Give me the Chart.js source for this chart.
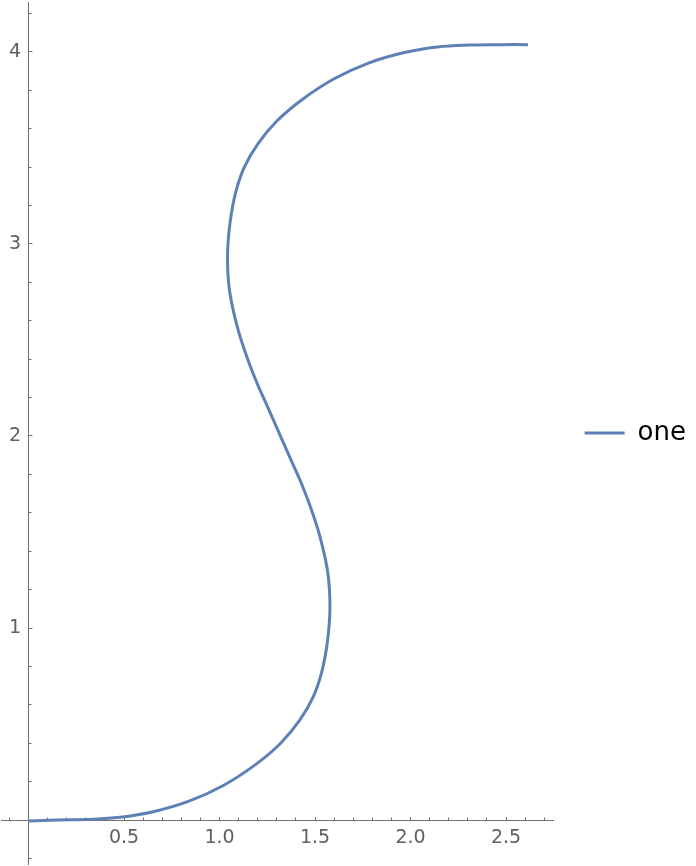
<!DOCTYPE html>
<html>
<head>
<meta charset="utf-8">
<script src="https://cdn.jsdelivr.net/npm/chart.js@4.4.0/dist/chart.umd.min.js"></script>
<style>
  html, body { margin: 0; padding: 0; background: #ffffff; }
  #wrap { width: 696px; height: 866px; }
</style>
</head>
<body>
<div id="wrap"><canvas id="c" width="696" height="866"></canvas></div>
<script>
// ---- data ----
const seriesName = 'one';
const curveX = [0, 0.15, 0.305, 0.479, 0.653, 0.84, 1.02, 1.19, 1.32, 1.42, 1.49, 1.535, 1.565, 1.578, 1.568, 1.53, 1.485, 1.43, 1.37, 1.31,
                1.25, 1.19, 1.135, 1.09, 1.052, 1.042, 1.055, 1.085, 1.13, 1.20, 1.30, 1.43, 1.60, 1.78, 1.967, 2.141, 2.315, 2.47, 2.615];
const curveY = [-0.005, 0.0, 0.003, 0.014, 0.043, 0.098, 0.18, 0.29, 0.40, 0.52, 0.64, 0.77, 0.93, 1.10, 1.28, 1.46, 1.605, 1.75, 1.885, 2.02,
                2.155, 2.29, 2.435, 2.58, 2.76, 2.94, 3.11, 3.27, 3.40, 3.52, 3.64, 3.75, 3.86, 3.942, 3.997, 4.026, 4.036, 4.038, 4.038];
const xTickValues = [0.5, 1.0, 1.5, 2.0, 2.5];
const xTickLabels = ['0.5', '1.0', '1.5', '2.0', '2.5'];
const yTickValues = [1, 2, 3, 4];
const yTickLabels = ['1', '2', '3', '4'];
const xRange = [-0.144, 2.746];
const yRange = [-0.229, 4.26];

const AXIS = '#707070';
const LABEL = '#606060';
const LINE = '#5E81B5';
const tickFont = { family: 'DejaVu Sans', size: 19 };

function setTicks(values) {
  return function (scale) { scale.ticks = values.map(v => ({ value: v })); };
}
function labelFrom(values, labels) {
  return function (v) {
    const i = values.findIndex(t => Math.abs(t - v) < 1e-9);
    return i >= 0 ? labels[i] : '';
  };
}
function noPad(scale) {
  scale.paddingTop = 0; scale.paddingBottom = 0; scale.paddingLeft = 0; scale.paddingRight = 0;
}

const points = curveX.map((x, i) => ({ x: x, y: curveY[i] }));

new Chart(document.getElementById('c'), {
  type: 'scatter',
  data: {
    datasets: [{
      label: seriesName,
      data: points,
      showLine: true,
      borderColor: LINE,
      backgroundColor: LINE,
      borderWidth: 3,
      pointRadius: 0,
      pointHoverRadius: 0,
      pointStyle: 'line',
      tension: 0.4,
      fill: false,
      xAxisID: 'x',
      yAxisID: 'y'
    }]
  },
  options: {
    responsive: false,
    animation: false,
    devicePixelRatio: 1,
    layout: { padding: { left: 1, top: 2, right: 0, bottom: 2 } },
    plugins: {
      tooltip: { enabled: false },
      legend: {
        position: 'right',
        align: 'center',
        maxWidth: 200,
        labels: {
          usePointStyle: true,
          pointStyle: 'line',
          pointStyleWidth: 40,
          padding: 31.6,
          color: '#000000',
          font: { family: 'DejaVu Sans', size: 26 }
        }
      }
    },
    scales: {
      x: {
        type: 'linear',
        min: xRange[0], max: xRange[1],
        position: { y: 0 },
        afterBuildTicks: setTicks(xTickValues),
        afterFit: noPad,
        ticks: { autoSkip: false, includeBounds: false, padding: 11, color: LABEL, font: tickFont, maxRotation: 0,
                 callback: labelFrom(xTickValues, xTickLabels) },
        grid: { drawOnChartArea: false, drawTicks: true, tickLength: -4, color: AXIS, tickColor: AXIS, tickWidth: 1 },
        border: { display: true, color: AXIS, width: 1 }
      },
      xMinor: {
        type: 'linear', axis: 'x',
        min: xRange[0], max: xRange[1],
        position: { y: 0 },
        afterFit: noPad,
        ticks: { stepSize: 0.1, autoSkip: false, includeBounds: false, display: false },
        grid: { drawOnChartArea: false, drawTicks: true, tickLength: -2.5, color: AXIS, tickColor: AXIS, tickWidth: 1 },
        border: { display: false }
      },
      y: {
        type: 'linear',
        min: yRange[0], max: yRange[1],
        position: { x: 0 },
        afterBuildTicks: setTicks(yTickValues),
        afterFit: noPad,
        ticks: { autoSkip: false, includeBounds: false, display: false },
        grid: { drawOnChartArea: false, drawTicks: true, tickLength: -4.5, color: AXIS, tickColor: AXIS, tickWidth: 1 },
        border: { display: true, color: AXIS, width: 1 }
      },
      yMinor: {
        type: 'linear', axis: 'y',
        min: yRange[0], max: yRange[1],
        position: { x: 0 },
        afterFit: noPad,
        ticks: { stepSize: 0.2, autoSkip: false, includeBounds: false, display: false },
        grid: { drawOnChartArea: false, drawTicks: true, tickLength: -2.5, color: AXIS, tickColor: AXIS, tickWidth: 1 },
        border: { display: false }
      },
      yLabels: {
        type: 'linear', axis: 'y',
        min: yRange[0], max: yRange[1],
        position: { x: -0.039 },
        afterBuildTicks: setTicks(yTickValues),
        afterFit: noPad,
        ticks: { autoSkip: false, includeBounds: false, color: LABEL, font: tickFont,
                 callback: labelFrom(yTickValues, yTickLabels) },
        grid: { display: false },
        border: { display: false }
      }
    }
  }
});
</script>
</body>
</html>
